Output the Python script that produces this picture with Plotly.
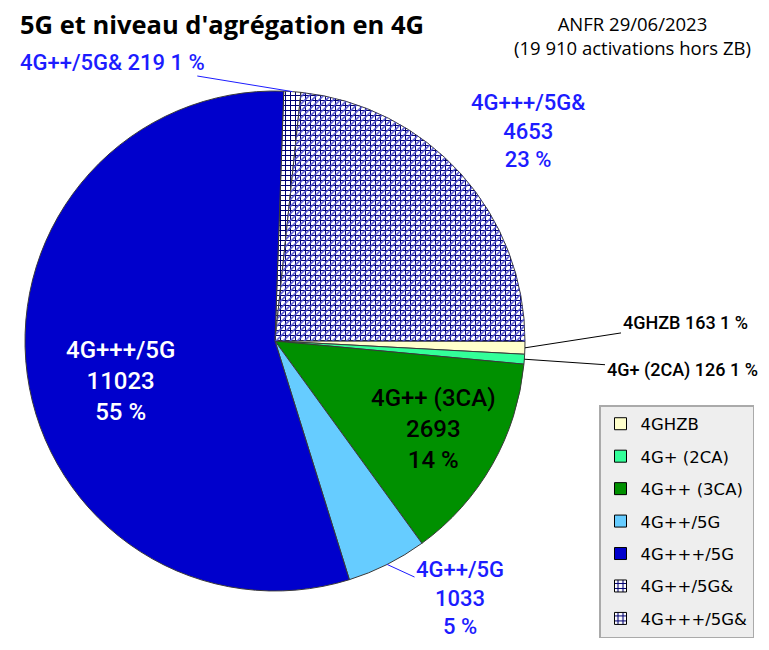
import plotly.graph_objects as go
import math

# slices in clockwise order starting near 12 o'clock
labels = ["4G++/5G&", "4G+++/5G&", "4GHZB", "4G+ (2CA)", "4G++ (3CA)", "4G++/5G", "4G+++/5G"]
values = [219, 4653, 163, 126, 2693, 1033, 11023]
legend_order = ["4GHZB", "4G+ (2CA)", "4G++ (3CA)", "4G++/5G", "4G+++/5G", "4G++/5G&", "4G+++/5G&"]

colors = {
    "4GHZB": "#ffffcc",
    "4G+ (2CA)": "#33ff99",
    "4G++ (3CA)": "#009000",
    "4G++/5G": "#66ccff",
    "4G+++/5G": "#0000cc",
    "4G++/5G&": "#ffffff",
    "4G+++/5G&": "#ffffff",
}
grid = {"4G++/5G&": "+", "4G+++/5G&": "+"}
diag = {"4G+++/5G&": "/"}

# page body has an 8px margin, so the figure is a bit smaller than the window
OFF = 8
W, H = 769 - 2 * OFF, 650 - 2 * OFF
cx, cy, R = 275, 341, 250
rotation = 2
total = sum(values)
BLUE = "#1c1cff"


def px(x, y):
    return (x - OFF) / W, 1 - (y - OFF) / H


x0, y1 = px(cx - R, cy + R)
x1, y0 = px(cx + R, cy - R)
dom = dict(x=[x0, x1], y=[y1, y0])

fig = go.Figure()

fig.add_trace(go.Pie(
    labels=labels, values=values, sort=False, direction="clockwise",
    rotation=rotation, domain=dom,
    textinfo="none", showlegend=False,
    marker=dict(
        colors=[colors[l] for l in labels],
        line=dict(color="#3a3a3a", width=1),
        pattern=dict(shape=[grid.get(l, "") for l in labels],
                     fgcolor="#000070", size=5, solidity=0.36),
    ),
    hovertemplate="%{label}<br>%{value}<br>%{percent}<extra></extra>",
))

# diagonal hatch on top of the grid for 4G+++/5G&
fig.add_trace(go.Pie(
    labels=labels, values=values, sort=False, direction="clockwise",
    rotation=rotation, domain=dom,
    textinfo="none", showlegend=False, hoverinfo="skip",
    marker=dict(
        colors=["rgba(0,0,0,0)"] * len(labels),
        line=dict(width=0),
        pattern=dict(shape=[diag.get(l, "") for l in labels],
                     fgcolor="#4f4fd0", bgcolor="rgba(0,0,0,0)",
                     size=5, solidity=0.3),
    ),
))

# one tiny pie per category only to get spaced legend entries
for l in legend_order:
    fig.add_trace(go.Pie(
        labels=[l], values=[1], sort=False, textinfo="none",
        hoverinfo="skip", legendgroup=l, showlegend=True,
        domain=dict(x=[0.9, 0.9005], y=[0.2, 0.2005]),
        marker=dict(colors=[colors[l]], line=dict(color="#000000", width=1),
                    pattern=dict(shape=[grid.get(l, "")], fgcolor="#000070",
                                 size=5, solidity=0.4)),
    ))


def edge_point(name):
    i = labels.index(name)
    start = sum(values[:i])
    mid = rotation + 360 * (start + values[i] / 2) / total
    a = math.radians(mid)
    return cx + R * math.sin(a), cy - R * math.cos(a)


def pct(name):
    return round(values[labels.index(name)] / total * 100)


def val(name):
    return values[labels.index(name)]


# label text positions (reference pixels) for each slice
inside = [
    ("4G+++/5G", 120, 381, "white", 24),
    ("4G++ (3CA)", 433, 429, "black", 24),
    ("4G+++/5G&", 528, 131, BLUE, 22),
]
outside_multi = [("4G++/5G", 460, 598, BLUE, 22)]
outside_single = [
    ("4G++/5G&", 112, 62, BLUE, 22),
    ("4GHZB", 685, 323, "black", 18),
    ("4G+ (2CA)", 682, 370, "black", 18),
]

annotations = []
for name, tx, ty, col, fs in inside:
    ax_, ay_ = px(tx, ty)
    annotations.append(dict(
        x=ax_, y=ay_, xref="paper", yref="paper",
        text=f"{name}<br>{val(name)}<br>{pct(name)} %", showarrow=False,
        font=dict(family="Roboto", size=fs, color=col, weight=500),
        xanchor="center", yanchor="middle",
    ))

for name, tx, ty, col, fs in outside_multi:
    ex, ey = edge_point(name)
    hx, hy = px(ex, ey)
    annotations.append(dict(
        x=hx, y=hy, xref="paper", yref="paper",
        ax=tx - ex, ay=ty - ey, axref="pixel", ayref="pixel",
        text=f"{name}<br>{val(name)}<br>{pct(name)} %", showarrow=True,
        arrowhead=0, arrowwidth=1, arrowcolor=col,
        font=dict(family="Roboto", size=fs, color=col, weight=500),
    ))

for name, tx, ty, col, fs in outside_single:
    ex, ey = edge_point(name)
    hx, hy = px(ex, ey)
    annotations.append(dict(
        x=hx, y=hy, xref="paper", yref="paper",
        ax=tx - ex, ay=ty - ey, axref="pixel", ayref="pixel",
        text=f"{name} {val(name)} {pct(name)} %", showarrow=True,
        arrowhead=0, arrowwidth=1, arrowcolor=col,
        font=dict(family="Roboto", size=fs, color=col, weight=500),
    ))

tx, ty = px(18, 24)
annotations.append(dict(
    x=tx, y=ty, xref="paper", yref="paper",
    text="<b>5G et niveau d'agrégation en 4G</b>", showarrow=False,
    font=dict(family="Open Sans", size=25.5, color="black"),
    xanchor="left", yanchor="middle",
))
tx, ty = px(632, 36)
annotations.append(dict(
    x=tx, y=ty, xref="paper", yref="paper",
    text="ANFR 29/06/2023<br>(19 910 activations hors ZB)", showarrow=False,
    font=dict(family="Open Sans", size=18.5, color="black"),
    xanchor="center", yanchor="middle",
))

lx, ly = px(599, 405)
fig.update_layout(
    width=W, height=H,
    margin=dict(l=0, r=0, t=0, b=0),
    paper_bgcolor="white",
    annotations=annotations,
    legend=dict(
        x=lx, y=ly, xanchor="left", yanchor="top",
        bgcolor="#eeeeee", bordercolor="#aaaaaa", borderwidth=1.5,
        font=dict(family="DejaVu Sans", size=16.5, color="black"),
        tracegroupgap=8,
    ),
)

fig.write_html("out.html")
